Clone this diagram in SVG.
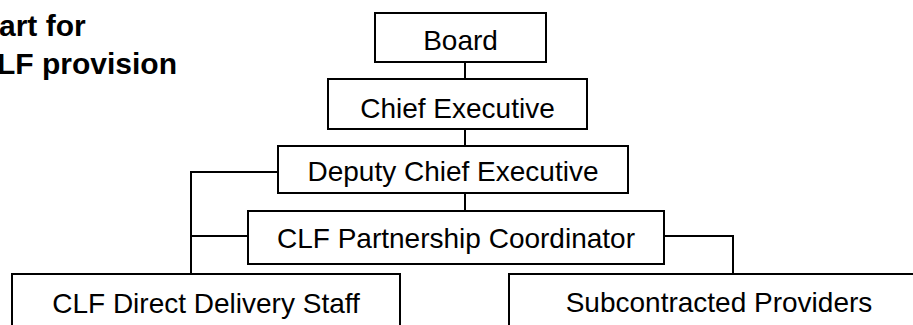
<svg xmlns="http://www.w3.org/2000/svg" width="913" height="325" viewBox="0 0 913 325">
  <style>
    .box { fill: #ffffff; stroke: #000000; stroke-width: 2; }
    .lbl { font-family: "Liberation Sans", Arial, sans-serif; font-size: 28px; fill: #000000; text-anchor: middle; }
    .ttl { font-family: "Liberation Sans", Arial, sans-serif; font-size: 30px; font-weight: bold; fill: #000000; }
    .link { fill: none; stroke: #000000; stroke-width: 2; }
  </style>
  <rect width="913" height="325" fill="#ffffff"/>

  <!-- chart title -->
  <text class="ttl" x="-1" y="36">art for</text>
  <text class="ttl" x="-3" y="74">LF provision</text>

  <!-- reporting lines -->
  <g id="connectors">
    <path class="link" d="M465 62 V79"/>
    <path class="link" d="M465 129 V146"/>
    <path class="link" d="M465 193 V211"/>
    <path class="link" d="M278 172 H191 V274"/>
    <path class="link" d="M191 236 H248"/>
    <path class="link" d="M664 236 H733 V274"/>
  </g>

  <g id="board">
    <rect class="box" x="375" y="13" width="171" height="49"/>
    <text class="lbl" x="460.5" y="50">Board</text>
  </g>
  <g id="chief-executive">
    <rect class="box" x="328" y="79" width="259" height="50"/>
    <text class="lbl" x="457.5" y="118">Chief Executive</text>
  </g>
  <g id="deputy-chief-executive">
    <rect class="box" x="278" y="146" width="350" height="47"/>
    <text class="lbl" x="453" y="181">Deputy Chief Executive</text>
  </g>
  <g id="clf-partnership-coordinator">
    <rect class="box" x="248" y="211" width="416" height="53"/>
    <text class="lbl" x="456" y="248">CLF Partnership Coordinator</text>
  </g>
  <g id="clf-direct-delivery-staff">
    <rect class="box" x="12" y="274" width="388" height="70"/>
    <text class="lbl" x="206" y="313">CLF Direct Delivery Staff</text>
  </g>
  <g id="subcontracted-providers">
    <rect class="box" x="509" y="274" width="420" height="70"/>
    <text class="lbl" x="719" y="312">Subcontracted Providers</text>
  </g>
</svg>
